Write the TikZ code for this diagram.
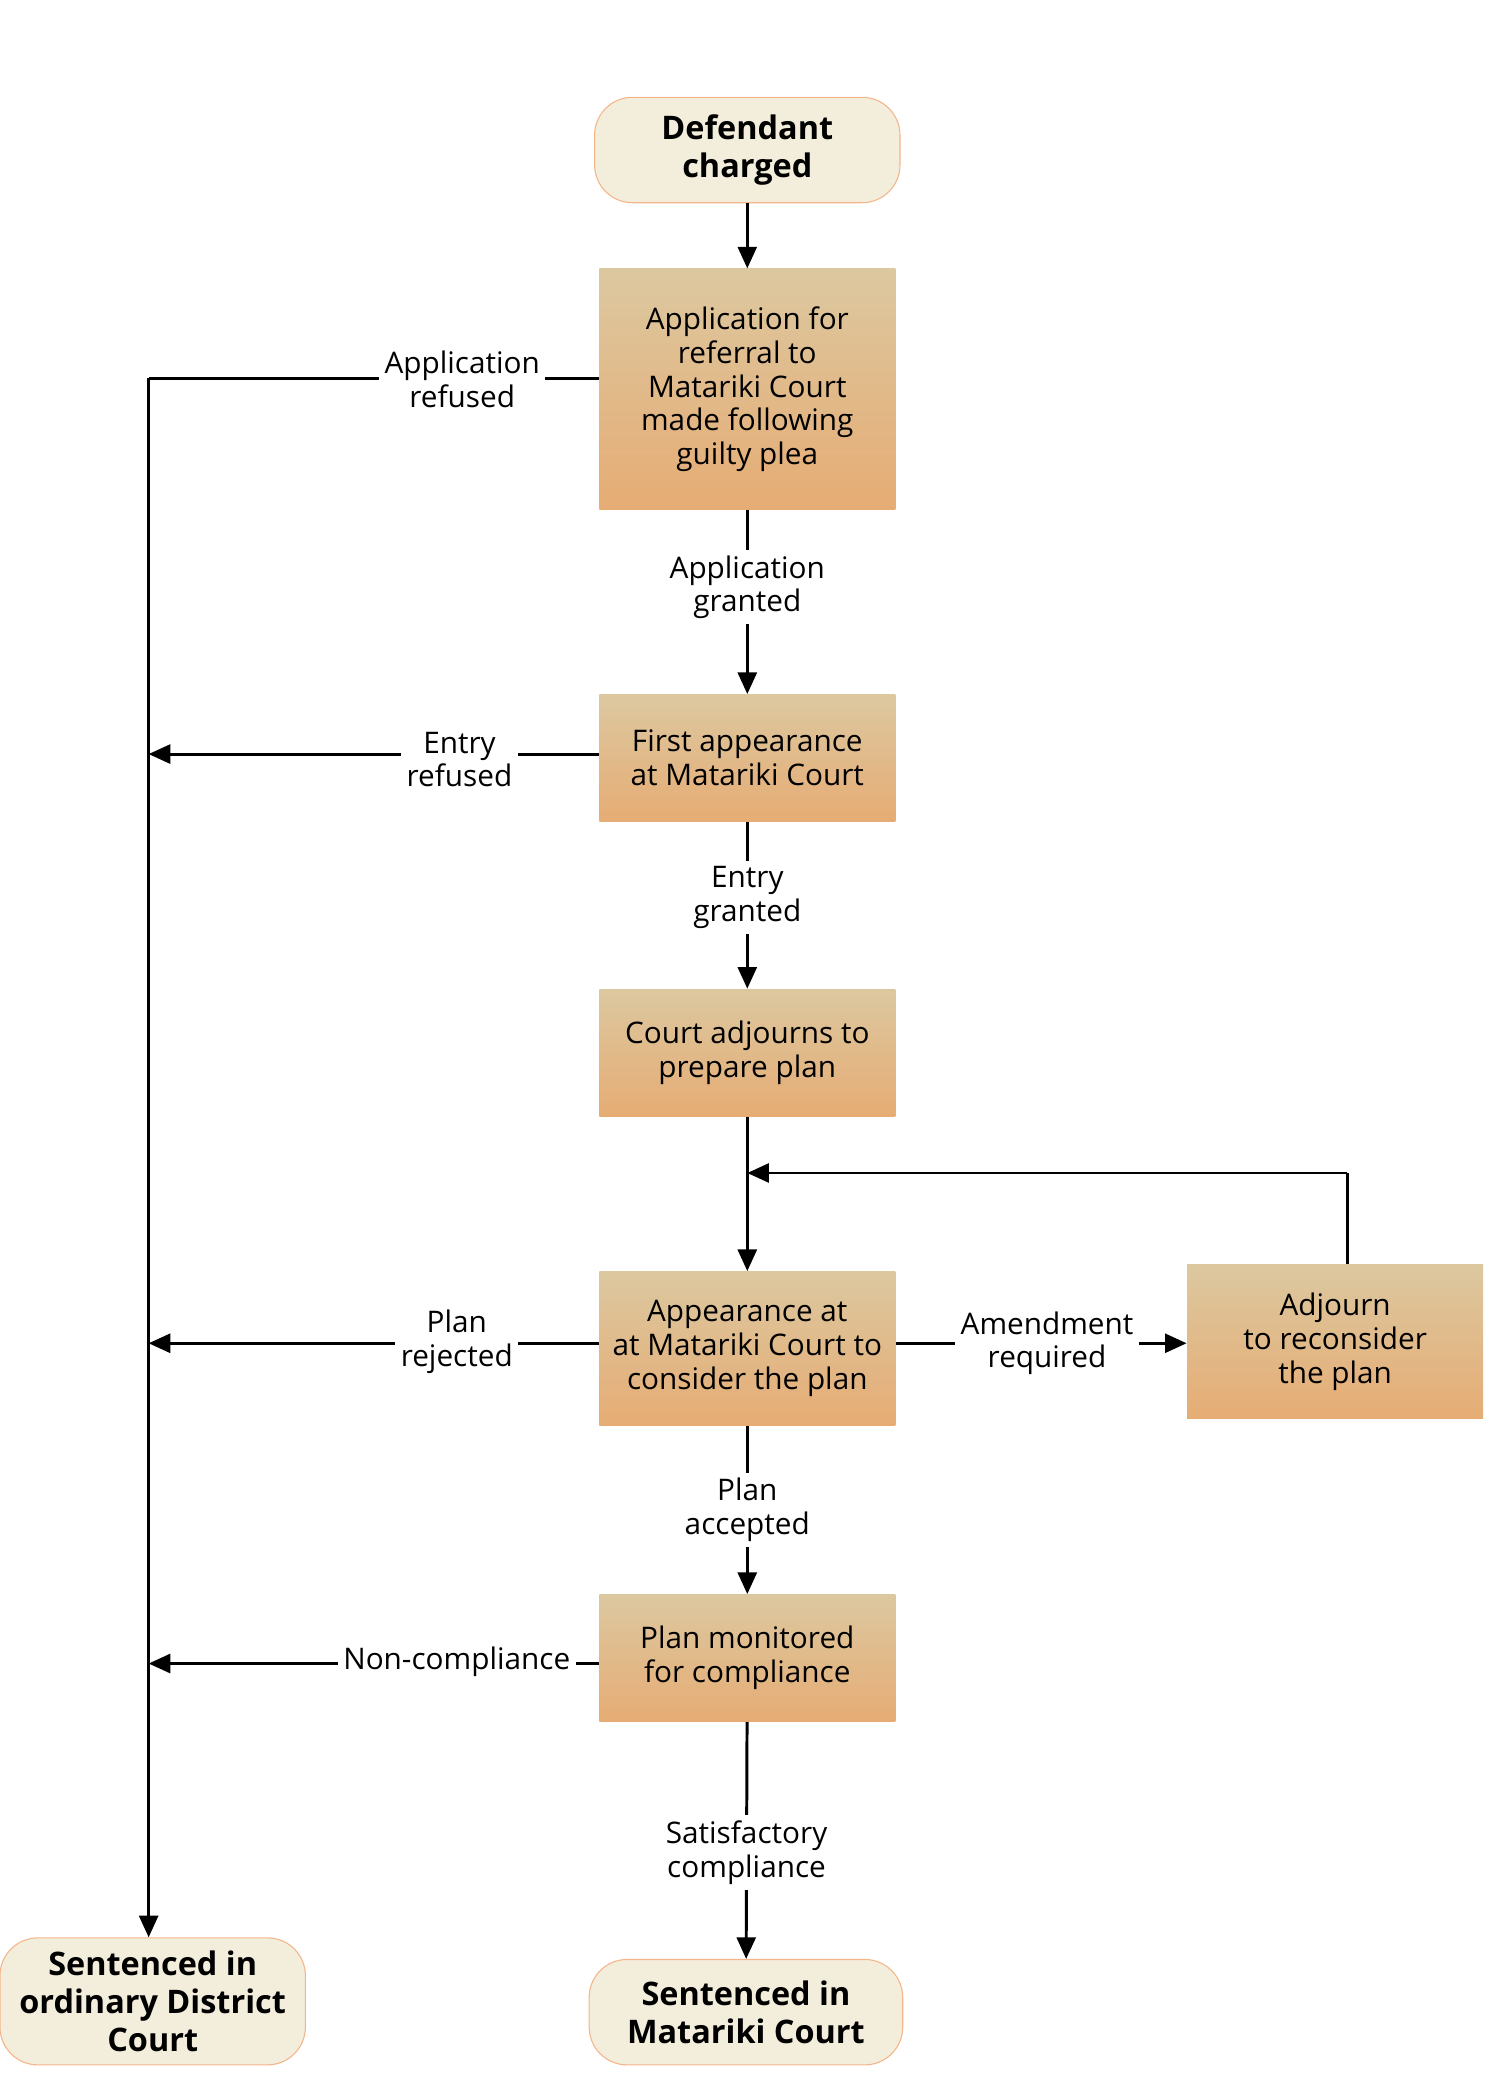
\documentclass[tikz,border=0pt]{standalone}
\usepackage{fontspec}
\setmainfont{Open Sans}
\usetikzlibrary{arrows.meta}
\definecolor{cream}{HTML}{F3EEDC}
\definecolor{cedge}{HTML}{F5B58A}
\definecolor{gtop}{HTML}{DCC8A0}
\definecolor{gbot}{HTML}{E6AC74}
\begin{document}
\begin{tikzpicture}[x=0.5pt,y=-0.5pt,
 term/.style={draw=cedge,fill=cream,rounded corners=14pt,align=center,font=\fontsize{12}{14}\selectfont\bfseries,inner sep=0pt},
 box/.style={top color=gtop,bottom color=gbot,draw=none,align=center,font=\fontsize{11}{12.5}\selectfont,inner sep=0pt},
 lab/.style={fill=white,align=center,font=\fontsize{11}{12.5}\selectfont,inner sep=2pt},
 arr/.style={-{Triangle[length=8pt,width=7pt]},line width=1.1pt},
 ln/.style={line width=1.1pt}]
\useasboundingbox (0,0) rectangle (1110,1554);
\node[term,minimum width=113pt,minimum height=39pt] (def) at (553,111) {Defendant\\charged};
\node[box,minimum width=109.5pt,minimum height=89pt] (app) at (553,288) {Application for\\referral to\\Matariki Court\\made following\\guilty plea};
\node[box,minimum width=109.5pt,minimum height=47pt] (first) at (553,561) {First appearance\\at Matariki Court};
\node[box,minimum width=109.5pt,minimum height=47pt] (adj) at (553,779) {Court adjourns to\\prepare plan};
\node[box,minimum width=109.5pt,minimum height=57pt] (cons) at (553,998) {Appearance at\\at Matariki Court to\\consider the plan};
\node[box,minimum width=109.5pt,minimum height=57pt] (recon) at (988,993) {Adjourn\\to reconsider\\the plan};
\node[box,minimum width=109.5pt,minimum height=47pt] (mon) at (553,1227) {Plan monitored\\for compliance};
\node[term,minimum width=113pt,minimum height=47pt] (sdc) at (113,1481) {Sentenced in\\ordinary District\\Court};
\node[term,minimum width=116pt,minimum height=39pt] (smc) at (552,1489) {Sentenced in\\Matariki Court};
\coordinate (L0) at (110,280);
\coordinate (L1) at (110,558);
\coordinate (L2) at (110,994);
\coordinate (L3) at (110,1231);
\coordinate (top) at (997,868);
\coordinate (join) at (553,868);
\draw[arr] (def) -- (app);
\draw[ln] (app.west|-L0) -- (L0);
\draw[arr] (L0) -- (sdc.north-|L0);
\node[lab] at (342,281) {Application\\refused};
\draw[arr] (app) -- (first) node[lab,pos=0.42]{Application\\granted};
\draw[arr] (first.west|-L1) -- (L1);
\node[lab] at (340,562) {Entry\\refused};
\draw[arr] (first) -- (adj) node[lab,pos=0.45]{Entry\\granted};
\draw[arr] (adj) -- (cons);
\draw[ln] (recon.north-|top) -- (top);
\draw[arr] (top) -- (join);
\draw[arr] (cons.west|-L2) -- (L2);
\node[lab] at (338,993) {Plan\\rejected};
\draw[arr] (cons.east|-L2) -- (recon.west|-L2) node[lab,pos=0.52]{Amendment\\required};
\draw[arr] (cons) -- (mon) node[lab,pos=0.5]{Plan\\accepted};
\draw[arr] (mon.west|-L3) -- (L3);
\node[lab] at (338,1230) {Non-compliance};
\draw[arr] (mon) -- (smc) node[lab,pos=0.55]{Satisfactory\\compliance};
\end{tikzpicture}
\end{document}
